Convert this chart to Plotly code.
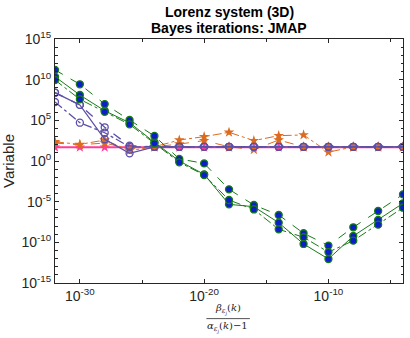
import plotly.graph_objects as go

# x positions (beta/(alpha-1))
x_vals = [1e-32, 1e-30, 1e-28, 1e-26, 1e-24, 1e-22, 1e-20, 1e-18, 1e-16,
          1e-14, 1e-12, 1e-10, 1e-8, 1e-6, 1e-4]

green_dash = [1.6e11, 2.7e9, 1.0e7, 1.1e5, 1.2e3, 1.8, 0.51, 3.3e-4, 3.9e-6,
              2.3e-7, 1.3e-9, 4.0e-11, 7.1e-9, 7.1e-7, 7.9e-5]
green_solid = [2.3e10, 1.3e8, 1.5e6, 5.1e4, 2.0e2, 1.0, 2.3e-2, 4.7e-6, 2.4e-6,
               2.6e-8, 6.3e-11, 8.9e-13, 6.0e-10, 5.6e-8, 6.3e-6]
green_dashdot = [9.1e9, 3.8e7, 1.1e6, 3.2e4, 1.5e2, 0.69, 1.9e-2, 1.6e-5, 1.1e-6,
                 4.0e-9, 4.2e-10, 6.3e-12, 1.6e-10, 1.5e-8, 1.8e-6]

purple_dash = [2.5e8, 7.8e6, 1.4e4, 76, 56, 56, 56, 56, 56, 56, 56, 56, 56, 56, 56]
purple_dashdot = [1.8e7, 5.1e4, 3.0e3, 56, 56, 56, 56, 56, 56, 56, 56, 56, 56, 56, 56]
purple_solid = [2.5e8, 7.8e6, 4.7e2, 8.7, 56, 56, 56, 56, 56, 56, 56, 56, 56, 56, 56]

orange_dashdot = [230, 110, 380, 19, 56, 380, 980, 3400, 320, 1300, 1600, 12, 56, 56, 56]
orange_dash = [160, 100, 160, 32, 56, 120, 320, 56, 25, 380, 56, 56, 56, 56, 56]

magenta = [48] * 15

x_tickvals = [1e-30, 1e-20, 1e-10]
x_ticktext = ["10<sup>-30</sup>", "10<sup>-20</sup>", "10<sup>-10</sup>"]
y_tickvals = [1e-15, 1e-10, 1e-5, 1e0, 1e5, 1e10, 1e15]
y_ticktext = ["10<sup>-15</sup>", "10<sup>-10</sup>", "10<sup>-5</sup>", "10<sup>0</sup>",
              "10<sup>5</sup>", "10<sup>10</sup>", "10<sup>15</sup>"]

title_lines = ["Lorenz system (3D)", "Bayes iterations: JMAP"]

GREEN = "#177a17"
BLUE = "#0a1fc8"
PURPLE = "#5b4fa8"
ORANGE = "#dd6a1e"
MAGENTA = "#ff3c96"
INK = "#262626"
FONT = "Liberation Sans, Arial"

fig = go.Figure()

fig.add_trace(go.Scatter(x=x_vals, y=magenta, mode="lines+markers",
                         line=dict(color=MAGENTA, width=2),
                         marker=dict(symbol="star", size=8, color=MAGENTA)))

for ys, dash in [(orange_dash, "dash"), (orange_dashdot, "dashdot")]:
    fig.add_trace(go.Scatter(x=x_vals, y=ys, mode="lines+markers",
                             line=dict(color=ORANGE, width=1, dash=dash),
                             marker=dict(symbol="star", size=8, color=ORANGE)))

for ys, dash in [(purple_solid, "solid"), (purple_dash, "dash"), (purple_dashdot, "dashdot")]:
    fig.add_trace(go.Scatter(x=x_vals, y=ys, mode="lines+markers",
                             line=dict(color=PURPLE, width=1.3, dash=dash),
                             marker=dict(symbol="circle-open", size=7,
                                         line=dict(color=PURPLE, width=1.3))))

for ys, dash in [(green_solid, "solid"), (green_dash, "dash"), (green_dashdot, "dashdot")]:
    fig.add_trace(go.Scatter(x=x_vals, y=ys, mode="lines+markers",
                             line=dict(color=GREEN, width=1, dash=dash),
                             marker=dict(symbol="circle", size=7, color=BLUE,
                                         line=dict(color=GREEN, width=1.3))))

axis_common = dict(type="log", showline=True, linecolor=INK, linewidth=1,
                   mirror="ticks", ticks="inside", ticklen=4, tickcolor=INK,
                   showgrid=False, zeroline=False, automargin=False,
                   tickfont=dict(family=FONT, size=14, color=INK))

fig.update_xaxes(range=[-32, -4], tickvals=x_tickvals, ticktext=x_ticktext,
                 minor=dict(tickvals=[1e-25, 1e-15, 1e-5], ticks="inside", ticklen=3,
                            tickcolor=INK, showgrid=False),
                 **axis_common)
fig.update_yaxes(range=[-15, 15], tickvals=y_tickvals, ticktext=y_ticktext,
                 minor=dict(tickvals=[10.0 ** k for k in range(-15, 16)], ticks="inside",
                            ticklen=2.5, tickcolor=INK, showgrid=False),
                 title=dict(text="Variable", font=dict(family=FONT, size=15, color=INK),
                            standoff=4),
                 **axis_common)

annotations = [
    dict(text="<b>%s</b>" % title_lines[0], xref="paper", yref="paper", x=0.5, y=1.111,
         xanchor="center", yanchor="middle", showarrow=False,
         font=dict(family=FONT, size=14, color="black")),
    dict(text="<b>%s</b>" % title_lines[1], xref="paper", yref="paper", x=0.5, y=1.045,
         xanchor="center", yanchor="middle", showarrow=False,
         font=dict(family=FONT, size=14, color="black")),
    dict(text="<i>β</i><sub><i>ε</i><sub><i>j</i></sub></sub>(<i>k</i>)",
         xref="paper", yref="paper", x=0.497, y=-0.145, xanchor="center",
         yanchor="bottom", showarrow=False, borderpad=0,
         font=dict(family="DejaVu Serif", size=10, color=INK)),
    dict(text="<i>α</i><sub><i>ε</i><sub><i>j</i></sub></sub>(<i>k</i>)−1",
         xref="paper", yref="paper", x=0.497, y=-0.147, xanchor="center",
         yanchor="top", showarrow=False, borderpad=0,
         font=dict(family="DejaVu Serif", size=10, color=INK)),
]

fig.update_layout(
    width=410, height=338,
    margin=dict(l=55, r=7, t=39, b=55, autoexpand=False),
    paper_bgcolor="white", plot_bgcolor="white",
    showlegend=False,
    annotations=annotations,
    shapes=[dict(type="line", xref="paper", yref="paper", x0=0.435, x1=0.56,
                 y0=-0.146, y1=-0.146, line=dict(color=INK, width=0.8))],
)

fig.write_html("out.html", config={"displayModeBar": False},
               post_script="document.body.style.margin='0';document.body.style.padding='0';")
